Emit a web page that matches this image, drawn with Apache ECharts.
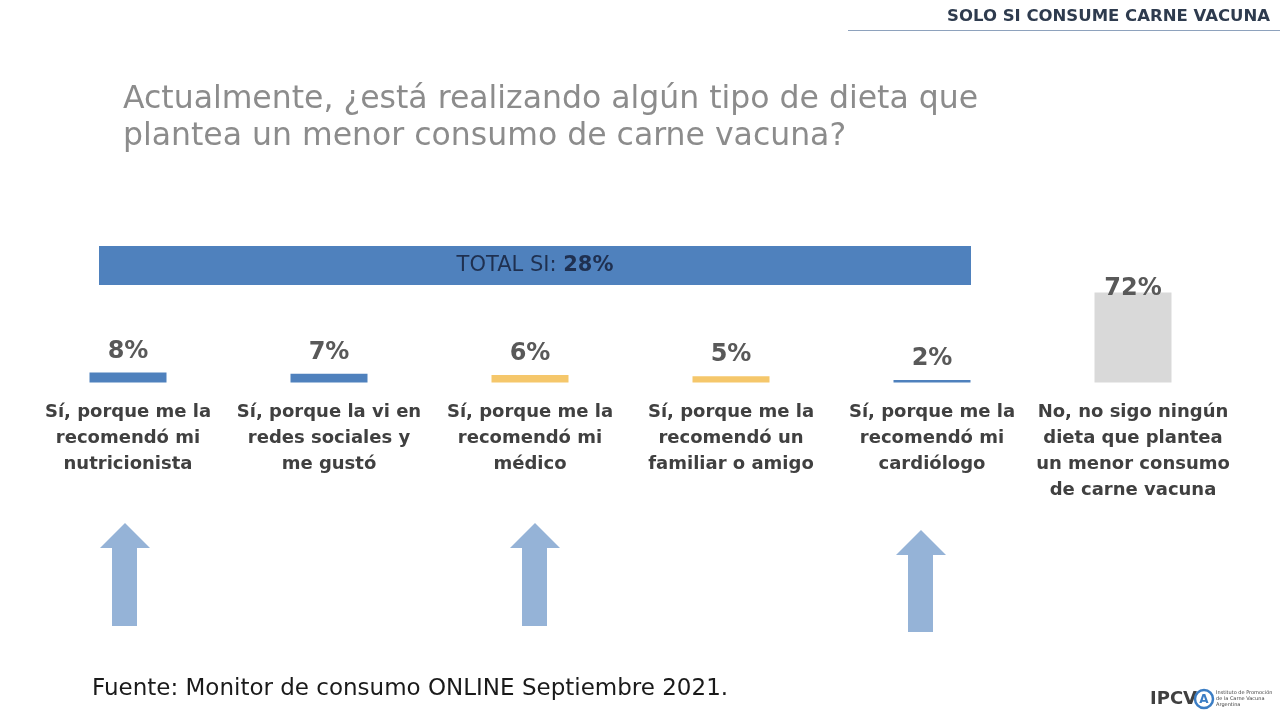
<!DOCTYPE html>
<html><head><meta charset="utf-8">
<script src="https://cdn.jsdelivr.net/npm/echarts@6/dist/echarts.min.js"></script>
<style>html,body{margin:0;padding:0;background:#fff}#c{width:1280px;height:720px}</style>
</head><body><div id="c"></div>
<script>
const categories = [
  "Sí, porque me la\nrecomendó mi\nnutricionista",
  "Sí, porque la vi en\nredes sociales y\nme gustó",
  "Sí, porque me la\nrecomendó mi\nmédico",
  "Sí, porque me la\nrecomendó un\nfamiliar o amigo",
  "Sí, porque me la\nrecomendó mi\ncardiólogo",
  "No, no sigo ningún\ndieta que plantea\nun menor consumo\nde carne vacuna"
];
const values = [8, 7, 6, 5, 2, 72];
const barColors = ["#4f81bd", "#4f81bd", "#f5c76b", "#f5c76b", "#4f81bd", "#d9d9d9"];
const totalSi = 28;

const chart = echarts.init(document.getElementById('c'));
const F = "'DejaVu Sans', sans-serif";
const data = values.map((v, i) => {
  const d = { value: v, itemStyle: { color: barColors[i] } };
  if (i === 5) d.label = { offset: [0, 17] };
  return d;
});
const arrow = (cx, tip, bottom) => ({
  type: 'polygon',
  shape: { points: [[cx, tip], [cx + 25, tip + 25], [cx + 12, tip + 25], [cx + 12, bottom], [cx - 13, bottom], [cx - 13, tip + 25], [cx - 25, tip + 25]] },
  style: { fill: '#95b3d7' }
});
chart.setOption({
  animation: false,
  grid: { left: 27.5, width: 1206, top: 232.5, height: 150 },
  xAxis: {
    type: 'category', data: categories,
    axisLine: { show: false }, axisTick: { show: false },
    axisLabel: { interval: 0, margin: 17, color: '#404040', fontSize: 18, fontWeight: 'bold', fontFamily: F, lineHeight: 26, verticalAlign: 'top' }
  },
  yAxis: { type: 'value', min: 0, max: 120, show: false, splitLine: { show: false } },
  series: [{
    type: 'bar', data: data, barWidth: 77,
    label: { show: true, position: 'top', distance: 9, formatter: '{c}%', color: '#595959', fontSize: 24, fontWeight: 'bold', fontFamily: F }
  }],
  graphic: [
    { type: 'text', right: 10, top: 8, style: { text: 'SOLO SI CONSUME CARNE VACUNA', fill: '#2e3b4e', font: "bold 16.5px " + F } },
    { type: 'line', shape: { x1: 848, y1: 30.5, x2: 1280, y2: 30.5 }, style: { stroke: '#8ea2bd', lineWidth: 1 } },
    { type: 'text', left: 123, top: 81, style: { text: 'Actualmente, ¿está realizando algún tipo de dieta que\nplantea un menor consumo de carne vacuna?', fill: '#8c8c8c', font: "31.5px " + F, lineHeight: 37 } },
    { type: 'rect', shape: { x: 99, y: 246, width: 872, height: 39 }, style: { fill: '#4f81bd' } },
    { type: 'text', x: 535, y: 266, style: { text: '{a|TOTAL SI: }{b|' + totalSi + '%}', align: 'center', verticalAlign: 'middle',
      rich: { a: { fill: '#1f3050', font: "21px " + F }, b: { fill: '#1f3050', font: "bold 21px " + F } } } },
    arrow(125, 523, 626),
    arrow(535, 523, 626),
    arrow(921, 530, 632),
    { type: 'text', left: 92, top: 678, style: { text: 'Fuente: Monitor de consumo ONLINE Septiembre 2021.', fill: '#1a1a1a', font: "23px " + F } },
    { type: 'text', left: 1150, top: 690, style: { text: 'IPCV', fill: '#404040', font: "bold 18px " + F } },
    { type: 'circle', shape: { cx: 1204, cy: 699, r: 9 }, style: { fill: '#fff', stroke: '#3b7dc4', lineWidth: 2.5 } },
    { type: 'text', x: 1204, y: 700, style: { text: 'A', fill: '#3b7dc4', font: "bold 12px " + F, align: 'center', verticalAlign: 'middle' } },
    { type: 'text', left: 1216, top: 690, style: { text: 'Instituto de Promoción\nde la Carne Vacuna\nArgentina', fill: '#404040', font: "5px " + F, lineHeight: 6 } }
  ]
});
</script></body></html>
